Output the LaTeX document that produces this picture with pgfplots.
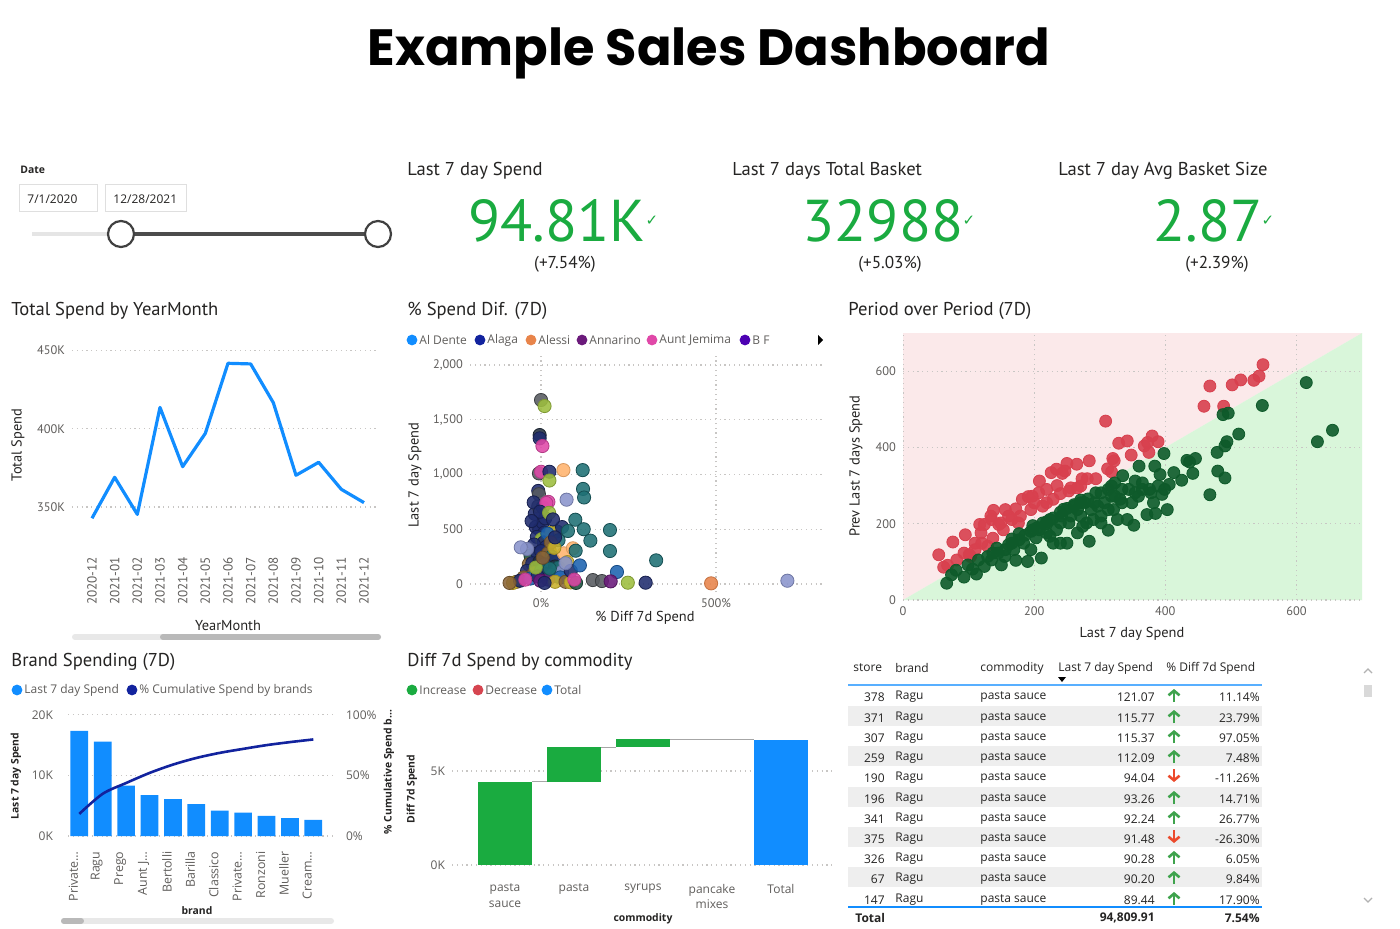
\documentclass[border=0pt]{standalone}
\usepackage{pgfplots}
\pgfplotsset{compat=1.18}
\usepackage{fontspec}
\setmainfont{Open Sans}
\newfontfamily\din{PT Sans}
\newfontfamily\pop{Poppins}
\newfontfamily\dejavu{DejaVu Sans}
\usetikzlibrary{arrows.meta}

\definecolor{pbblue}{HTML}{118DFF}
\definecolor{pbnavy}{HTML}{12239E}
\definecolor{pbgreen}{HTML}{1AAB40}
\definecolor{pbred}{HTML}{D64550}
\definecolor{ticktxt}{HTML}{605E5C}
\definecolor{gridc}{HTML}{C8C6C4}
\definecolor{titletxt}{HTML}{252423}
\definecolor{pinkbg}{HTML}{FBE9EA}
\definecolor{greenbg}{HTML}{D9F6DA}
\definecolor{darkgreen}{HTML}{0E5A2A}
\definecolor{redpt}{HTML}{D8404E}
\definecolor{rowgrey}{HTML}{EEEEEE}
\definecolor{upgreen}{HTML}{3FA34D}
\definecolor{downred}{HTML}{EC4A2C}
\definecolor{cn}{HTML}{1F2C6E}
\definecolor{ct}{HTML}{1E7075}
\definecolor{cg}{HTML}{575B60}
\definecolor{cy}{HTML}{9DBE3E}
\definecolor{cp}{HTML}{E048A8}
\definecolor{co}{HTML}{FFB36E}
\definecolor{cs}{HTML}{8A94CC}
\definecolor{cb}{HTML}{8A6537}
\definecolor{cm}{HTML}{1C62B0}
\definecolor{cu}{HTML}{6B1A7B}
\definecolor{ck}{HTML}{C8B02A}
\definecolor{cd}{HTML}{243040}
\definecolor{cr}{HTML}{E8844A}
\definecolor{ce}{HTML}{1D5040}

\newcommand{\ftitle}{\din\fontsize{9.3}{10}\selectfont}
\newcommand{\ftick}{\din\fontsize{6.2}{7}\selectfont}
\newcommand{\faxl}{\din\fontsize{7.2}{8}\selectfont}
\newcommand{\fseg}{\fontsize{6}{7}\selectfont}
\newcommand{\fsegb}{\bfseries\fontsize{5.2}{6}\selectfont}

\tikzset{pbgrid/.style={gridc, line width=0.6pt, dash pattern=on 0.6pt off 1.8pt}}
\pgfplotsset{pbi/.style={scale only axis, anchor=south west,
  axis lines*=left, axis line style={draw=none}, tick style={draw=none},
  ymajorgrids, grid style={pbgrid},
  /pgf/number format/assume math mode=true,
  tick label style={font=\ftick, text=ticktxt}}}

\begin{document}
\begin{tikzpicture}
\useasboundingbox (0,0) rectangle (700pt,464pt);
\fill[white] (0,0) rectangle (700pt,464pt);

% ---------- Chart 1: Total Spend by YearMonth
\begin{axis}[pbi, at={(36pt,189pt)}, width=153pt, height=105pt,
  xmin=-0.882, xmax=12.618, ymin=322.5, ymax=456.8,
  ytick={350,400,450}, yticklabels={350K,400K,450K},
  xtick={0,...,12},
  xticklabels={2020-12,2021-01,2021-02,2021-03,2021-04,2021-05,2021-06,2021-07,2021-08,2021-09,2021-10,2021-11,2021-12},
  xticklabel style={rotate=90, anchor=east, font=\din\fontsize{6.6}{7}\selectfont}]
\addplot[pbblue, line width=1.6pt, line join=round] coordinates {
(0,342.8)(1,369.0)(2,345.3)(3,413.7)(4,375.8)(5,397.1)(6,441.9)(7,441.5)(8,416.7)(9,370.3)(10,378.6)(11,361.3)(12,352.8)};
\end{axis}

% ---------- Chart 2: % Spend Dif. (7D)
\begin{axis}[pbi, at={(235pt,168pt)}, width=176pt, height=118.5pt,
  xmin=-203, xmax=803, ymin=-73, ymax=2091, xmajorgrids,
  xtick={0,500}, xticklabels={0\%,500\%},
  ytick={0,500,1000,1500,2000}, yticklabels={0,500,{1,000},{1,500},{2,000}},
  scatter/classes={
    n={mark=*,fill=cn,draw=cn!70!black}, t={mark=*,fill=ct,draw=ct!70!black},
    g={mark=*,fill=cg,draw=cg!70!black}, y={mark=*,fill=cy,draw=cy!80!black},
    p={mark=*,fill=cp,draw=cp!80!black}, o={mark=*,fill=co,draw=co!85!black},
    s={mark=*,fill=cs,draw=cs!80!black}, b={mark=*,fill=cb,draw=cb!75!black},
    m={mark=*,fill=cm,draw=cm!75!black}, u={mark=*,fill=cu,draw=cu!75!black},
    k={mark=*,fill=ck,draw=ck!80!black}, d={mark=*,fill=cd,draw=cd!70!black},
    r={mark=*,fill=cr,draw=cr!85!black}, e={mark=*,fill=ce,draw=ce!70!black}}]
\addplot[scatter, only marks, mark size=3.3pt, fill opacity=0.88, scatter src=explicit symbolic] table[meta=c] {
x y c
-15 520 n
-5 500 n
5 560 n
10 470 n
-12 430 n
2 410 y
8 380 n
-20 360 n
15 340 n
25 300 k
-30 260 e
-10 280 n
0 300 n
20 280 b
30 250 t
35 220 n
-35 180 b
-25 190 n
-5 200 d
10 180 n
40 160 d
50 150 t
-40 120 n
-20 100 b
0 120 t
15 90 n
30 80 t
45 70 t
60 110 s
55 60 m
-50 60 b
-70 20 b
-80 10 k
-60 30 n
-30 50 m
-10 70 n
-45 40 p
20 40 u
40 20 k
70 20 b
85 15 k
100 10 e
-90 10 b
65 280 o
75 200 k
85 120 n
95 40 p
45 480 t
30 470 k
-18 640 n
12 600 n
60 520 n
50 400 t
-8 710 g
5 700 n
18 460 m
-40 320 s
28 380 b
38 330 k
70 190 s
-15 150 y
25 140 t
5 240 b
-2 30 u
10 10 n
0 1680 g
10 1625 y
-4 1360 d
-4 1330 n
4 1260 p
-6 1010 g
0 1025 p
24 1025 n
64 1040 o
119 1040 t
24 945 y
120 868 t
123 790 t
73 770 s
-8 850 n
-6 820 g
-21 745 n
21 750 p
15 740 p
-3 660 n
23 650 y
-27 575 n
34 590 n
98 587 t
122 500 t
197 493 t
77 484 t
141 396 t
40 426 n
-58 335 s
91 326 o
99 304 t
197 301 t
329 216 t
111 170 m
217 110 m
148 36 g
174 27 g
199 24 u
248 12 y
299 12 n
486 6 r
704 30 s
};
\end{axis}

% ---------- Chart 3: Period over Period
\begin{axis}[pbi, ymajorgrids=false, at={(451.5pt,164pt)}, width=229.5pt, height=133.5pt,
  xmin=0, xmax=700, ymin=0, ymax=700,
  xtick={0,200,400,600}, ytick={0,200,400,600}]
\addplot[fill=pinkbg, draw=none] coordinates {(0,0)(0,700)(700,700)};
\addplot[fill=greenbg, draw=none] coordinates {(0,0)(700,0)(700,700)};
\foreach \g in {0,200,400,600}{
  \edef\temp{\noexpand\draw[pbgrid] (axis cs:\g,0) -- (axis cs:\g,700);
             \noexpand\draw[pbgrid] (axis cs:0,\g) -- (axis cs:700,\g);}
  \temp
}
\addplot[only marks, mark=*, mark size=3pt, color=redpt, fill opacity=0.9] coordinates {
(54.5,118.6)(62,86)(68,91)(76,152)(82,105)(95,171)(93,123)(101,119)(103,114)(110,149)(117,198)(119,176)(124,198)(134,220)(138,235)(129,141)(137,162)(146,198)(153,184)(161,220)(166,211)(172,239)(179,220)(182,264)(191,271)(195,237)(200,255)(208,312)(207,281)(219,290)(213,246)(226,334)(234,343)(235,300)(243,332)(250,358)(253,286)(265,356)(256,294)(266,294)(273,318)(281,318)(284,365)(294,318)(309,469)(312,344)(320,371)(322,365)(318,336)(329,411)(342,417)(348,380)(368,404)(373,413)(380,430)(375,387)(389,415)(459,508)(468,561)(489,508)(502,564)(515,577)(535,576)(543,587)(549,617)(135,211)(149,202)(176,202)(197,272)(219,255)(240,279)(247,338)(271,299)(229,264)(156,237)(120,149)(110,132)};
\addplot[only marks, mark=*, mark size=3pt, color=darkgreen, fill opacity=0.9] coordinates {
(66.6,44)(74,66)(81,78)(93,60)(99,92)(106,81)(112,68)(115,105)(124,88)(135,105)(143,136)(150,92)(155,114)(161,145)(169,132)(172,104)(177,158)(184,149)(190,101)(195,132)(198,184)(203,163)(211,110)(213,202)(219,176)(224,211)(229,149)(234,184)(242,220)(250,149)(253,202)(261,246)(266,176)(271,220)(277,255)(284,154)(287,237)(294,281)(302,202)(307,255)(313,183)(318,299)(321,237)(327,211)(331,264)(335,326)(342,211)(352,196)(354,312)(360,351)(359,272)(365,290)(372,224)(378,281)(384,351)(385,227)(382,255)(392,329)(395,277)(398,384)(403,237)(406,303)(413,334)(425,314)(433,366)(437,362)(442,332)(446,371)(468,276)(479,387)(480,338)(491,320)(491,404)(494,415)(488,486)(496,490)(512,435)(548,510)(615,570)(632,415)(655,445)
(186,170)(195,180)(205,190)(219,205)(229,215)(240,230)(250,240)(261,250)(271,262)(282,265)(292,255)(302,281)(313,290)(323,272)(334,255)(344,290)(354,281)(166,160)(177,174)(198,195)(208,184)(224,167)(240,202)(256,220)(266,237)(280,202)(290,211)(145,123)(156,132)(166,149)(129,114)(137,123)(219,200)(245,238)(271,255)(297,246)(323,307)(334,290)(318,272)(240,149)(274,193)(313,237)(302,220)(349,255)(365,307)(376,290)(389,299)(399,290)};
\end{axis}

% ---------- Chart 4: Brand Spending
\begin{axis}[pbi, at={(34pt,46pt)}, width=132.5pt, height=63pt,
  xmin=-0.483, xmax=10.84, ymin=0, ymax=20.8, ybar, bar width=8.85pt,
  ytick={0,10,20}, yticklabels={0K,10K,20K},
  tick label style={font=\fseg, text=ticktxt},
  yticklabel style={xshift=-4pt},
  xtick={0,...,10},
  xticklabels={Private…,Ragu,Prego,Aunt J…,Bertolli,Barilla,Classico,Private…,Ronzoni,Mueller,Cream…},
  xticklabel style={rotate=90, anchor=east, yshift=3pt, font=\fontsize{6.2}{6}\selectfont}]
\addplot[fill=pbblue, draw=none] coordinates {
(0,17.34)(1,15.57)(2,8.31)(3,6.76)(4,6.09)(5,5.26)(6,4.21)(7,3.88)(8,3.32)(9,2.94)(10,2.66)};
\end{axis}
\begin{axis}[scale only axis, anchor=south west, at={(34pt,46pt)}, width=132.5pt, height=63pt,
  xmin=-0.483, xmax=10.84, ymin=0, ymax=104.13,
  axis y line*=right, axis x line=none, axis line style={draw=none}, tick style={draw=none},
  ytick={0,50,100}, yticklabels={0\%,50\%,100\%},
  yticklabel style={xshift=3pt},
  tick label style={font=\fseg, text=ticktxt}]
\addplot[pbnavy, line width=1.3pt, smooth] coordinates {
(0,18.3)(1,34.9)(2,43.8)(3,52.1)(4,59.0)(5,64.5)(6,68.7)(7,72.0)(8,75.1)(9,77.6)(10,79.8)};
\end{axis}

% ---------- Chart 5: waterfall
\begin{axis}[pbi, at={(226pt,31.5pt)}, width=190.5pt, height=72.5pt,
  xmin=-0.768, xmax=4.754, ymin=0, ymax=7.713,
  ytick={0,5}, yticklabels={0K,5K},
  tick label style={font=\fseg, text=ticktxt},
  xtick={0,...,4}, xticklabels={{pasta\\sauce},pasta,syrups,{pancake\\mixes},Total},
  xticklabel style={align=center, anchor=north, yshift=-6pt, font=\fontsize{6}{7.8}\selectfont}]
\addplot[fill=pbgreen, draw=none] coordinates {(-0.39,0)(0.39,0)(0.39,4.43)(-0.39,4.43)};
\addplot[fill=pbgreen, draw=none] coordinates {(0.61,4.43)(1.39,4.43)(1.39,6.26)(0.61,6.26)};
\addplot[fill=pbgreen, draw=none] coordinates {(1.61,6.26)(2.39,6.26)(2.39,6.68)(1.61,6.68)};
\addplot[fill=pbred, draw=none] coordinates {(2.61,6.65)(3.39,6.65)(3.39,6.68)(2.61,6.68)};
\addplot[fill=pbblue, draw=none] coordinates {(3.61,0)(4.39,0)(4.39,6.65)(3.61,6.65)};
\addplot[gray!70, line width=0.5pt] coordinates {(0.39,4.43)(0.61,4.43)};
\addplot[gray!70, line width=0.5pt] coordinates {(1.39,6.26)(1.61,6.26)};
\addplot[gray!70, line width=0.5pt] coordinates {(2.39,6.68)(3.39,6.68)};
\addplot[gray!70, line width=0.5pt] coordinates {(3.39,6.65)(3.61,6.65)};
\end{axis}

% ---------- texts and decorations (pixel coordinates)
\begin{scope}[x=0.5pt, y=-0.5pt, yshift=464pt, every node/.append style={inner sep=0pt}]
\node[anchor=base, font=\pop\bfseries\fontsize{25.5}{30}\selectfont, text=black] at (709,66) {Example Sales Dashboard};

% date slicer
\node[anchor=west, font=\fsegb, text=titletxt] at (20,170) {Date};
\draw[gray!25, line width=0.5pt] (19,185) rectangle (97,212);
\draw[gray!25, line width=0.5pt] (105,185) rectangle (186,212);
\node[anchor=west, font=\fseg, text=titletxt] at (27,199) {7/1/2020};
\node[anchor=west, font=\fseg, text=titletxt] at (113,199) {12/28/2021};
\draw[gray!20, line width=2pt] (32,234) -- (121,234);
\draw[black!70, line width=2pt] (121,234) -- (378,234);
\draw[black!75, line width=1.1pt, fill=white] (121,234) circle (6.5pt);
\draw[black!75, line width=1.1pt, fill=white] (378,234) circle (6.5pt);

% KPIs
\node[anchor=base west, font=\ftitle, text=titletxt] at (407,176) {Last 7 day Spend};
\node[anchor=base west, font=\ftitle, text=titletxt] at (732,176) {Last 7 days Total Basket};
\node[anchor=base west, font=\ftitle, text=titletxt] at (1058,176) {Last 7 day Avg Basket Size};
\node[anchor=base, text depth=0pt, font=\din\fontsize{29.5}{31}\selectfont, text=pbgreen] at (557,242) {94.81K};
\node[anchor=base, text depth=0pt, font=\din\fontsize{29.5}{31}\selectfont, text=pbgreen] at (883,242) {32988};
\node[anchor=base, text depth=0pt, font=\din\fontsize{29.5}{31}\selectfont, text=pbgreen] at (1208,242) {2.87};
\node[font=\dejavu\fontsize{7.5}{8}\selectfont, text=pbgreen] at (652,221) {✓};
\node[font=\dejavu\fontsize{7.5}{8}\selectfont, text=pbgreen] at (969,221) {✓};
\node[font=\dejavu\fontsize{7.5}{8}\selectfont, text=pbgreen] at (1268,221) {✓};
\node[font=\din\fontsize{8.6}{9}\selectfont, text=titletxt] at (565,264) {(+7.54\%)};
\node[font=\din\fontsize{8.6}{9}\selectfont, text=titletxt] at (890,264) {(+5.03\%)};
\node[font=\din\fontsize{8.6}{9}\selectfont, text=titletxt] at (1217,264) {(+2.39\%)};

% chart titles
\node[anchor=base west, font=\ftitle, text=titletxt] at (11,316) {Total Spend by YearMonth};
\node[anchor=base west, font=\ftitle, text=titletxt] at (407,316) {\% Spend Dif. (7D)};
\node[anchor=base west, font=\ftitle, text=titletxt] at (848,316) {Period over Period (7D)};
\node[anchor=base west, font=\ftitle, text=titletxt] at (11,666) {Brand Spending (7D)};
\node[anchor=base west, font=\ftitle, text=titletxt] at (407,666) {Diff 7d Spend by commodity};

% axis titles
\node[rotate=90, font=\faxl, text=titletxt] at (18,445) {Total Spend};
\node[font=\faxl, text=titletxt] at (228,626) {YearMonth};
\node[rotate=90, font=\faxl, text=titletxt] at (415,475) {Last 7 day Spend};
\node[font=\faxl, text=titletxt] at (645,618) {\% Diff 7d Spend};
\node[rotate=90, font=\faxl, text=titletxt] at (856,466) {Prev Last 7 days Spend};
\node[font=\faxl, text=titletxt] at (1132,634) {Last 7 day Spend};
\node[rotate=90, font=\fsegb, text=titletxt] at (16,776) {Last 7 day Spend};
\node[rotate=90, font=\fsegb, text=titletxt] at (389,772) {\% Cumulative Spend b…};
\node[font=\fsegb, text=titletxt] at (197,911) {brand};
\node[rotate=90, font=\fsegb, text=titletxt] at (412,789) {Diff 7d Spend};
\node[font=\fsegb, text=titletxt] at (643,919) {commodity};

% scrollbars
\draw[line width=3pt, line cap=round, color=gray!18] (75,637) -- (378,637);
\draw[line width=3pt, line cap=round, color=gray!55] (163,637) -- (378,637);
\draw[line width=3pt, line cap=round, color=gray!18] (64,921) -- (331,921);
\draw[line width=3pt, line cap=round, color=gray!55] (64,921) -- (81,921);

% legends
\foreach \cx/\col/\lab in {412/pbblue/Al Dente, 480/pbnavy/Alaga, 531/cr/Alessi, 582/cu/Annarino, 652/cp/Aunt Jemima, 745/violet!60!blue/B F}{
  \fill[\col] (\cx,340) circle (2.7pt);
  \node[anchor=west, font=\fseg, text=ticktxt] at (\cx+7,340) {\lab};
}
\fill[black] (818,335) -- (818,345) -- (823,340) -- cycle;
\fill[pbblue] (17,690) circle (2.7pt);
\node[anchor=west, font=\fseg, text=ticktxt] at (24,690) {Last 7 day Spend};
\fill[pbnavy] (132,690) circle (2.7pt);
\node[anchor=west, font=\fseg, text=ticktxt] at (139,690) {\% Cumulative Spend by brands};
\fill[pbgreen] (412,690) circle (2.7pt);
\node[anchor=west, font=\fseg, text=ticktxt] at (419,690) {Increase};
\fill[pbred] (478,690) circle (2.7pt);
\node[anchor=west, font=\fseg, text=ticktxt] at (485,690) {Decrease};
\fill[pbblue] (547,690) circle (2.7pt);
\node[anchor=west, font=\fseg, text=ticktxt] at (554,690) {Total};

% table
\foreach \yy in {716,756,797,837,877}{\fill[rowgrey] (848,\yy-10) rectangle (1262,\yy+10);}
\node[anchor=west, font=\fseg, text=titletxt] at (853,668) {store};
\node[anchor=west, font=\fseg, text=titletxt] at (895,668) {brand};
\node[anchor=west, font=\fseg, text=titletxt] at (980,668) {commodity};
\node[anchor=west, font=\fseg, text=titletxt] at (1058,668) {Last 7 day Spend};
\node[anchor=west, font=\fseg, text=titletxt] at (1166,668) {\% Diff 7d Spend};
\fill[black] (1058,677) -- (1066,677) -- (1062,682) -- cycle;
\draw[pbblue!70, line width=0.8pt] (848,685) -- (1262,685);
\foreach \yy/\st/\sp/\pc/\up in {695/378/121.07/11.14/1, 716/371/115.77/23.79/1, 736/307/115.37/97.05/1, 756/259/112.09/7.48/1, 776/190/94.04/-11.26/0, 797/196/93.26/14.71/1, 817/341/92.24/26.77/1, 837/375/91.48/-26.30/0, 857/326/90.28/6.05/1, 877/67/90.20/9.84/1, 898/147/89.44/17.90/1}{
  \node[anchor=east, font=\fseg, text=titletxt] at (885,\yy+2) {\st};
  \node[anchor=west, font=\fseg, text=titletxt] at (895,\yy+2) {Ragu};
  \node[anchor=west, font=\fseg, text=titletxt] at (980,\yy+2) {pasta sauce};
  \node[anchor=east, font=\fseg, text=titletxt] at (1155,\yy+2) {\sp};
  \node[anchor=east, font=\fseg, text=titletxt] at (1260,\yy+2) {\pc\%};
  \ifnum\up=1
    \draw[upgreen, line width=1.3pt, -{Straight Barb[length=2.3pt,width=5.5pt]}] (1174,\yy+7) -- (1174,\yy-6);
  \else
    \draw[downred, line width=1.3pt, -{Straight Barb[length=2.3pt,width=5.5pt]}] (1174,\yy-7) -- (1174,\yy+6);
  \fi
}
\draw[pbblue, line width=0.9pt] (848,907) -- (1262,907);
\node[anchor=west, font=\bfseries\fontsize{6}{7}\selectfont, text=titletxt] at (855,918) {Total};
\node[anchor=east, font=\bfseries\fontsize{6}{7}\selectfont, text=titletxt] at (1155,918) {94,809.91};
\node[anchor=east, font=\bfseries\fontsize{6}{7}\selectfont, text=titletxt] at (1260,918) {7.54\%};
\draw[gray!60, line width=0.6pt] (1364,673) -- (1368,669) -- (1372,673);
\draw[gray!60, line width=0.6pt] (1364,898) -- (1368,902) -- (1372,898);
\fill[gray!30] (1364,685) rectangle (1372,697);
\end{scope}
\end{tikzpicture}
\end{document}
